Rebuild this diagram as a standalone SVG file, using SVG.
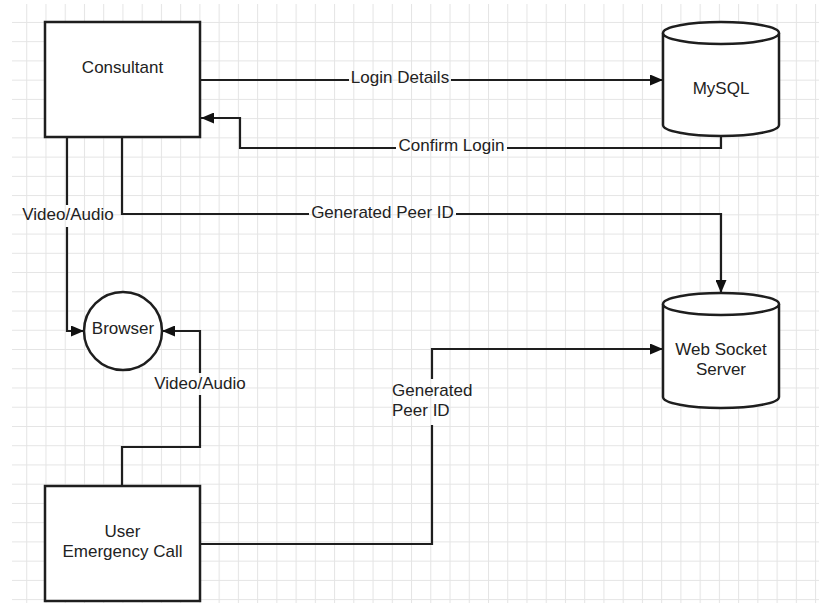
<svg xmlns="http://www.w3.org/2000/svg" width="819" height="603" viewBox="0 0 819 603">
<style>
text{font-family:"Liberation Sans",Arial,sans-serif;font-size:17px;fill:#222}
.c{text-anchor:middle}
.n{fill:#fff;stroke:#1e1e1e;stroke-width:2.5}
.e{fill:none;stroke:#1e1e1e;stroke-width:2.2}
</style>
<defs>
<pattern id="grid" patternUnits="userSpaceOnUse" x="7" y="2.7" width="19.24" height="19.24">
<path d="M0 0.5H19.24M0.5 0V19.24" stroke="#e4e4e4" stroke-width="1" fill="none"/>
</pattern>
<marker id="ah" viewBox="0 0 13 11" refX="13" refY="5.5" markerWidth="13" markerHeight="11" markerUnits="userSpaceOnUse" orient="auto">
<path d="M0 0L13 5.5L0 11Z" fill="#111"/>
</marker>
</defs>
<rect width="819" height="603" fill="#fff"/>
<rect x="12" y="4" width="807" height="599" fill="url(#grid)"/>

<g id="connectors">
<path class="e" d="M200 80H349M451 80H663" marker-end="url(#ah)"/>
<path class="e" d="M721 136V148H507M396 148H240V118H201" marker-end="url(#ah)"/>
<path class="e" d="M122 137V214H309M456 214H721V293" marker-end="url(#ah)"/>
<path class="e" d="M67 137V205M67 227V331H84" marker-end="url(#ah)"/>
<path class="e" d="M122 486V447H200V395M200 373V331H162" marker-end="url(#ah)"/>
<path class="e" d="M200 544H432V425M432 379V349H663" marker-end="url(#ah)"/>
<text class="c" x="400" y="83">Login Details</text>
<text class="c" x="451.5" y="151">Confirm Login</text>
<text class="c" x="382.5" y="218">Generated Peer ID</text>
<text class="c" x="68" y="220">Video/Audio</text>
<text class="c" x="200" y="389">Video/Audio</text>
<text x="392" y="396">Generated</text>
<text x="392" y="416">Peer ID</text>
</g>

<g id="consultant">
<rect class="n" x="45" y="22" width="155" height="115"/>
<text class="c" x="122.5" y="73">Consultant</text>
</g>

<g id="mysql">
<path class="n" d="M663 33V125A58 11 0 0 0 779 125V33"/>
<ellipse class="n" cx="721" cy="33" rx="58" ry="11"/>
<text class="c" x="721" y="94">MySQL</text>
</g>

<g id="browser">
<circle class="n" cx="123" cy="331" r="39"/>
<text class="c" x="123" y="334">Browser</text>
</g>

<g id="websocket">
<path class="n" d="M663 304V397A58 11 0 0 0 779 397V304"/>
<ellipse class="n" cx="721" cy="304" rx="58" ry="11"/>
<text class="c" x="721" y="355">Web Socket</text>
<text class="c" x="721" y="375">Server</text>
</g>

<g id="user">
<rect class="n" x="45" y="486" width="155" height="115"/>
<text class="c" x="122.5" y="537">User</text>
<text class="c" x="122.5" y="557">Emergency Call</text>
</g>
</svg>
